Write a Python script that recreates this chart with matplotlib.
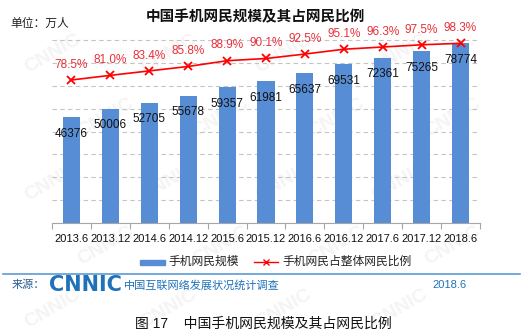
import matplotlib.pyplot as plt
import numpy as np

plt.rcParams['font.family'] = ['Liberation Sans', 'Noto Sans CJK SC', 'DejaVu Sans']

# mobile internet users (10k people) and share of all netizens (%)
periods = ['2013.6', '2013.12', '2014.6', '2014.12', '2015.6', '2015.12',
           '2016.6', '2016.12', '2017.6', '2017.12', '2018.6']
users = [46376, 50006, 52705, 55678, 59357, 61981, 65637, 69531, 72361, 75265, 78774]
share = [78.5, 81.0, 83.4, 85.8, 88.9, 90.1, 92.5, 95.1, 96.3, 97.5, 98.3]

bar_color = '#578dd4'
line_color = '#ff0000'

fig = plt.figure(figsize=(5.26, 3.36), dpi=100)

# faint watermark behind everything
wm = fig.add_axes([0, 0, 1, 1], zorder=-5)
wm.set_axis_off()
for row, yy in enumerate(np.arange(0.08, 0.95, 0.19)):
    for xx in np.arange(0.1, 0.95, 0.22):
        wm.text(xx + (0.1 if row % 2 else 0), yy, 'CNNIC', rotation=30, fontsize=14,
                fontweight='bold', color='#f4f4f4', ha='center', va='center',
                transform=wm.transAxes)

ax = fig.add_axes([52 / 526, 1 - 223 / 336, 428 / 526, 201 / 336])
ax.patch.set_alpha(0)
x = np.arange(len(periods))
bars = ax.bar(x, users, width=0.44, color=bar_color, zorder=2)
ax.set_xlim(-0.5, len(periods) - 0.5)
ax.set_ylim(0, 88000)
ax.set_yticks(np.arange(0, 80001, 10000))
ax.yaxis.grid(True, linestyle=(0, (4, 3)), color='#c4c4c4', linewidth=0.8, zorder=0)
ax.tick_params(axis='y', left=False, labelleft=False, length=0)
for s in ['top', 'right', 'left']:
    ax.spines[s].set_visible(False)
ax.spines['bottom'].set_color('#a6a6a6')
ax.set_xticks(x)
ax.set_xticklabels(periods, fontsize=8, color='#111111')
ax.tick_params(axis='x', length=0, pad=8)
ax.set_xticks(np.arange(-0.5, len(periods)), minor=True)
ax.tick_params(axis='x', which='minor', length=4, color='#a6a6a6', width=0.8)

for xi, v in zip(x, users):
    ax.annotate(str(v), (xi, v), xytext=(0, -12), textcoords='offset points',
                ha='center', va='center', fontsize=8.5, color='#111111', zorder=4)

# share of all netizens on a second scale
ax2 = ax.twinx()
ax2.set_ylim(1.3, 109.8)
ax2.set_axis_off()
ax2.plot(x, share, color=line_color, linewidth=1.2, marker='x', markersize=6,
         markeredgewidth=1.3, zorder=3)
for xi, p in zip(x, share):
    ax2.annotate(f'{p:.1f}%', (xi, p), xytext=(0, 11), textcoords='offset points',
                 ha='center', va='center', fontsize=8.5, color='#e8303a')

fig.text(255 / 526, 1 - 17 / 336, '中国手机网民规模及其占网民比例', ha='center',
         va='center', fontsize=10.5, fontweight='bold', color='#111111')
fig.text(10 / 526, 1 - 24 / 336, '单位：万人', ha='left', va='center',
         fontsize=8.5, color='#222222')

# legend
lg = fig.add_axes([0, 0, 1, 1], zorder=-1)
lg.set_axis_off()
lg.set_xlim(0, 526)
lg.set_ylim(336, 0)
lg.add_patch(plt.Rectangle((140, 259.5), 25, 5, color=bar_color))
lg.text(168, 262, '手机网民规模', va='center', fontsize=8.5, color='#222222')
lg.plot([254, 278], [262, 262], color=line_color, linewidth=1)
lg.plot([266], [262], marker='x', color=line_color, markersize=4, markeredgewidth=1)
lg.text(282, 262, '手机网民占整体网民比例', va='center', fontsize=8.5, color='#222222')

# source footer
lg.plot([3, 520], [274, 274], color='#5b9bd5', linewidth=1.2)
lg.text(12, 285, '来源：', va='center', fontsize=8, color='#2b5f8f')
lg.text(49, 285, 'CNNIC', va='center', fontsize=15, fontweight='heavy',
        color='#1f72b8', family='DejaVu Sans')
lg.text(124, 285, '中国互联网络发展状况统计调查', va='center', fontsize=8,
        color='#1f72b8')
lg.text(432, 285, '2018.6', va='center', fontsize=8, color='#1f72b8')

lg.text(263, 324, '图 17    中国手机网民规模及其占网民比例', ha='center', va='center',
        fontsize=10, color='#111111')

fig.savefig('out.png', dpi=100)
